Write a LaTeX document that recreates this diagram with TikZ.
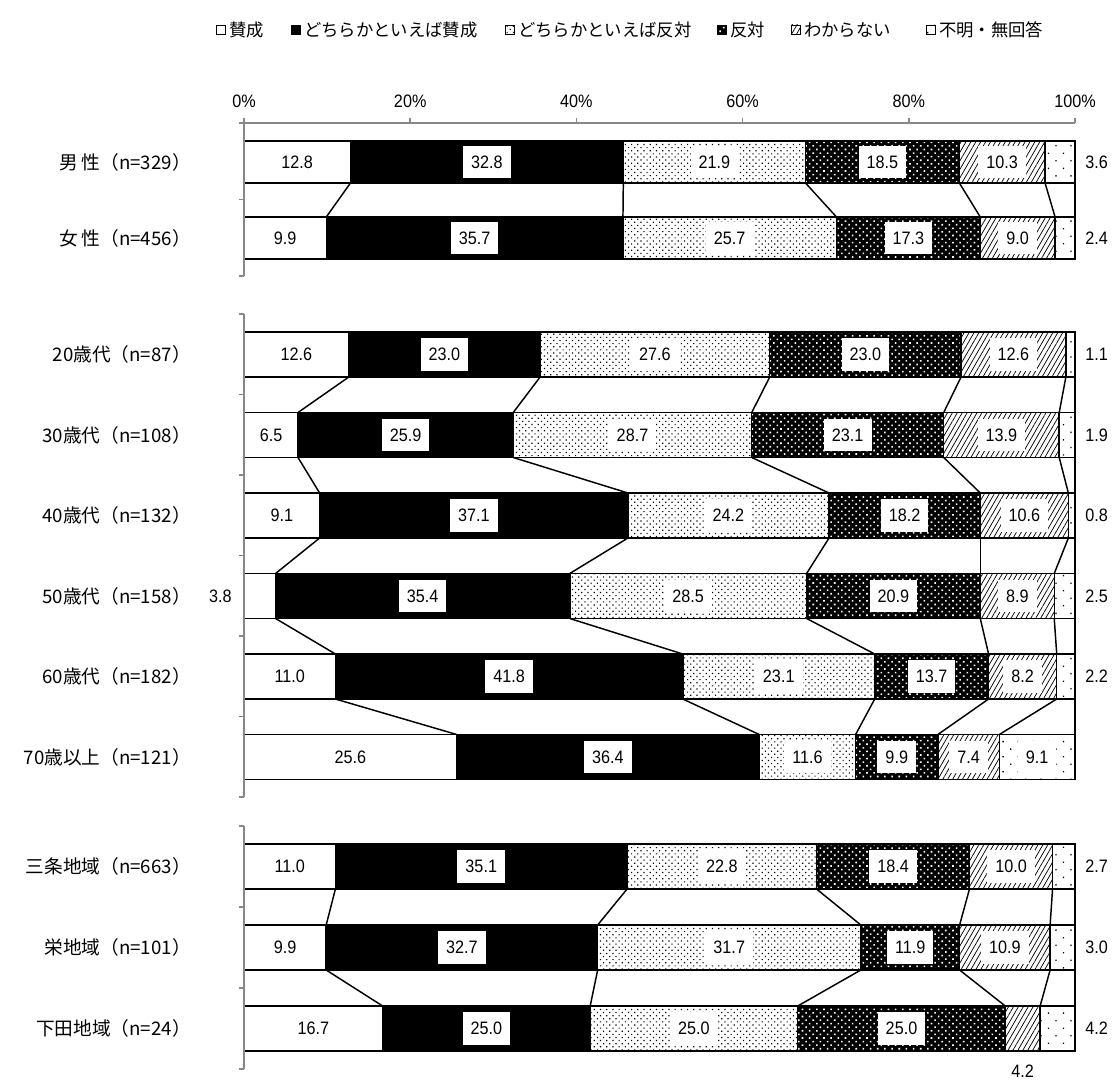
\documentclass[tikz,border=0pt]{standalone}
\usepackage{fontspec}
\setmainfont{Liberation Sans}
\newfontfamily\jpfont{Noto Sans CJK JP}
\newfontfamily\numfont[FakeStretch=0.9]{Liberation Sans}
\usetikzlibrary{patterns.meta}
\definecolor{axisgray}{HTML}{888888}
\newcommand{\barhalf}{21}
\newcommand{\hbarrow}[8]{%
  \pgfmathsetmacro\rowtot{#3+#4+#5+#6+#7+#8}%
  \pgfmathsetmacro\sxa{244+831*((#3)/\rowtot)}%
  \pgfmathsetmacro\sxb{244+831*((#3+#4)/\rowtot)}%
  \pgfmathsetmacro\sxc{244+831*((#3+#4+#5)/\rowtot)}%
  \pgfmathsetmacro\sxd{244+831*((#3+#4+#5+#6)/\rowtot)}%
  \pgfmathsetmacro\sxe{244+831*((#3+#4+#5+#6+#7)/\rowtot)}%
  \pgfmathsetmacro\syt{#2-\barhalf}%
  \pgfmathsetmacro\syb{#2+\barhalf}%
  \path[segA] (244,\syt) rectangle (\sxa,\syb);
  \path[segB] (\sxa,\syt) rectangle (\sxb,\syb);
  \path[segC] (\sxb,\syt) rectangle (\sxc,\syb);
  \path[segD] (\sxc,\syt) rectangle (\sxd,\syb);
  \path[segE] (\sxd,\syt) rectangle (\sxe,\syb);
  \path[segF] (\sxe,\syt) rectangle (1075,\syb);
  \coordinate (#1t1) at (\sxa,\syt); \coordinate (#1b1) at (\sxa,\syb);
  \coordinate (#1t2) at (\sxb,\syt); \coordinate (#1b2) at (\sxb,\syb);
  \coordinate (#1t3) at (\sxc,\syt); \coordinate (#1b3) at (\sxc,\syb);
  \coordinate (#1t4) at (\sxd,\syt); \coordinate (#1b4) at (\sxd,\syb);
  \coordinate (#1t5) at (\sxe,\syt); \coordinate (#1b5) at (\sxe,\syb);
  \coordinate (#1t6) at (1075,\syt); \coordinate (#1b6) at (1075,\syb);
  \coordinate (#1m1) at ({(244+\sxa)/2},#2);
  \coordinate (#1m2) at ({(\sxa+\sxb)/2},#2);
  \coordinate (#1m3) at ({(\sxb+\sxc)/2},#2);
  \coordinate (#1m4) at ({(\sxc+\sxd)/2},#2);
  \coordinate (#1m5) at ({(\sxd+\sxe)/2},#2);
  \coordinate (#1m6) at ({(\sxe+1075)/2},#2);
  \coordinate (#1r) at (1085,#2);
}
\newcommand{\stdlab}[7]{%
  \node[inlab] (#1l1) at (#1m1) {#2};
  \node[inlab] (#1l2) at (#1m2) {#3};
  \node[inlab] (#1l3) at (#1m3) {#4};
  \node[inlab] (#1l4) at (#1m4) {#5};
  \node[inlab] (#1l5) at (#1m5) {#6};
  \node[outlab] (#1l6) at (#1r) {#7};
}
\newcommand{\serlines}[2]{%
  \foreach \k in {1,...,6}{\draw[serline] (#1b\k) -- (#2t\k);}%
}
\begin{document}
\begin{tikzpicture}[x=0.75pt,y=-0.75pt,
  bord/.style={draw=black, line width=1.1pt},
  segA/.style={bord, fill=white},
  segB/.style={bord, fill=black},
  segC/.style={preaction={fill=white}, pattern={Dots[distance=3.3pt,radius=0.62pt,angle=45]}, pattern color=black, bord},
  segD/.style={preaction={fill=black}, pattern={Dots[distance=3.8pt,radius=0.85pt,angle=45]}, pattern color=white, bord},
  segE/.style={preaction={fill=white}, pattern={Lines[angle=60,distance=3.2pt,line width=0.55pt]}, pattern color=black, bord},
  segF/.style={preaction={fill=white}, pattern={Dots[distance=8pt,radius=0.7pt,angle=45]}, pattern color=black, bord},
  legbox/.style={line width=0.6pt},
  serline/.style={draw=black, line width=1.1pt},
  axisline/.style={draw=axisgray, line width=1.2pt},
  numf/.style={font=\numfont\fontsize{13.5}{15}\selectfont},
  inlab/.style={numf, fill=white, inner xsep=6pt, inner ysep=0pt, minimum height=24.5pt},
  outlab/.style={numf, anchor=west, inner sep=0pt},
  catlab/.style={font=\jpfont\fontsize{14}{16}\selectfont, anchor=east, inner sep=0pt},
  legtxt/.style={font=\jpfont\fontsize{13}{15}\selectfont, anchor=west, inner sep=0pt},
  pctlab/.style={numf, inner sep=0pt}
]
\useasboundingbox (0,0) rectangle (1112,1081);
\fill[white] (0,0) rectangle (1112,1081);

% legend
\path[segA, legbox] (216,25) rectangle (225,34);
\node[legtxt] (lg1) at (229,30) {賛成};
\path[segB, legbox] (291,25) rectangle (300,34);
\node[legtxt] (lg2) at (304,30) {どちらかといえば賛成};
\path[segC, legbox] (505,25) rectangle (514,34);
\node[legtxt] (lg3) at (518,30) {どちらかといえば反対};
\path[segD, legbox] (717,25) rectangle (726,34);
\node[legtxt] (lg4) at (730,30) {反対};
\path[segE, legbox] (791,25) rectangle (800,34);
\node[legtxt] (lg5) at (804,30) {わからない};
\path[segF, legbox] (926,25) rectangle (935,34);
\node[legtxt] (lg6) at (939,30) {不明・無回答};

% percent axis labels
\foreach \p [count=\i from 0] in {0,20,40,60,80,100}{
  \node[pctlab] (pct\i) at ({244+8.31*\p},101) {\p\%};
}

% group 1
\renewcommand{\barhalf}{21}
\hbarrow{ma}{162}{12.8}{32.8}{21.9}{18.5}{10.3}{3.6}
\hbarrow{fe}{238}{9.9}{35.7}{25.7}{17.3}{9.0}{2.4}
\serlines{ma}{fe}

% group 2
\renewcommand{\barhalf}{22.5}
\hbarrow{aa}{354.5}{12.6}{23.0}{27.6}{23.0}{12.6}{1.1}
\hbarrow{ab}{435}{6.5}{25.9}{28.7}{23.1}{13.9}{1.9}
\hbarrow{ac}{515.5}{9.1}{37.1}{24.2}{18.2}{10.6}{0.8}
\hbarrow{ad}{596}{3.8}{35.4}{28.5}{20.9}{8.9}{2.5}
\hbarrow{ae}{676.5}{11.0}{41.8}{23.1}{13.7}{8.2}{2.2}
\hbarrow{af}{757}{25.6}{36.4}{11.6}{9.9}{7.4}{9.1}
\serlines{aa}{ab}
\serlines{ab}{ac}
\serlines{ac}{ad}
\serlines{ad}{ae}
\serlines{ae}{af}

% group 3
\hbarrow{sa}{866.5}{11.0}{35.1}{22.8}{18.4}{10.0}{2.7}
\hbarrow{sb}{947.5}{9.9}{32.7}{31.7}{11.9}{10.9}{3.0}
\hbarrow{sc}{1028.5}{16.7}{25.0}{25.0}{25.0}{4.2}{4.2}
\serlines{sa}{sb}
\serlines{sb}{sc}

% axes
\draw[axisline] (244,123) -- (1075,123);
\foreach \p in {0,20,40,60,80,100}{\draw[axisline] ({244+8.31*\p},118) -- ({244+8.31*\p},123);}
\draw[axisline] (244,123) -- (244,276);
\foreach \yy in {123,199.5,276}{\draw[axisline] (239,\yy) -- (244,\yy);}
\draw[axisline] (244,314) -- (244,797);
\foreach \k in {0,...,6}{\draw[axisline] (239,{314+80.5*\k}) -- (244,{314+80.5*\k});}
\draw[axisline] (244,826) -- (244,1069);
\foreach \k in {0,...,3}{\draw[axisline] (239,{826+81*\k}) -- (244,{826+81*\k});}

% value labels
\stdlab{ma}{12.8}{32.8}{21.9}{18.5}{10.3}{3.6}
\stdlab{fe}{9.9}{35.7}{25.7}{17.3}{9.0}{2.4}
\stdlab{aa}{12.6}{23.0}{27.6}{23.0}{12.6}{1.1}
\stdlab{ab}{6.5}{25.9}{28.7}{23.1}{13.9}{1.9}
\stdlab{ac}{9.1}{37.1}{24.2}{18.2}{10.6}{0.8}
\node[numf, anchor=east, inner sep=0pt] (adl1) at (232,596) {3.8};
\node[inlab] (adl2) at (adm2) {35.4};
\node[inlab] (adl3) at (adm3) {28.5};
\node[inlab] (adl4) at (adm4) {20.9};
\node[inlab] (adl5) at (adm5) {8.9};
\node[outlab] (adl6) at (adr) {2.5};
\stdlab{ae}{11.0}{41.8}{23.1}{13.7}{8.2}{2.2}
\node[inlab] (afl1) at (afm1) {25.6};
\node[inlab] (afl2) at (afm2) {36.4};
\node[inlab] (afl3) at (afm3) {11.6};
\node[inlab] (afl4) at (afm4) {9.9};
\node[inlab] (afl5) at (afm5) {7.4};
\node[inlab] (afl6) at (afm6) {9.1};
\stdlab{sa}{11.0}{35.1}{22.8}{18.4}{10.0}{2.7}
\stdlab{sb}{9.9}{32.7}{31.7}{11.9}{10.9}{3.0}
\node[inlab] (scl1) at (scm1) {16.7};
\node[inlab] (scl2) at (scm2) {25.0};
\node[inlab] (scl3) at (scm3) {25.0};
\node[inlab] (scl4) at (scm4) {25.0};
\node[numf, inner sep=0pt] (scl5) at ([yshift=-43*0.75pt]scm5) {4.2};
\node[outlab] (scl6) at (scr) {4.2};

% category labels
\node[catlab] (c1) at (191,162) {男 性（n=329）};
\node[catlab] (c2) at (191,238) {女 性（n=456）};
\node[catlab] (c3) at (191,354.5) {20歳代（n=87）};
\node[catlab] (c4) at (191,435) {30歳代（n=108）};
\node[catlab] (c5) at (191,515.5) {40歳代（n=132）};
\node[catlab] (c6) at (191,596) {50歳代（n=158）};
\node[catlab] (c7) at (191,676.5) {60歳代（n=182）};
\node[catlab] (c8) at (191,757) {70歳以上（n=121）};
\node[catlab] (c9) at (191,866.5) {三条地域（n=663）};
\node[catlab] (c10) at (191,947.5) {栄地域（n=101）};
\node[catlab] (c11) at (191,1028.5) {下田地域（n=24）};
\end{tikzpicture}
\end{document}
